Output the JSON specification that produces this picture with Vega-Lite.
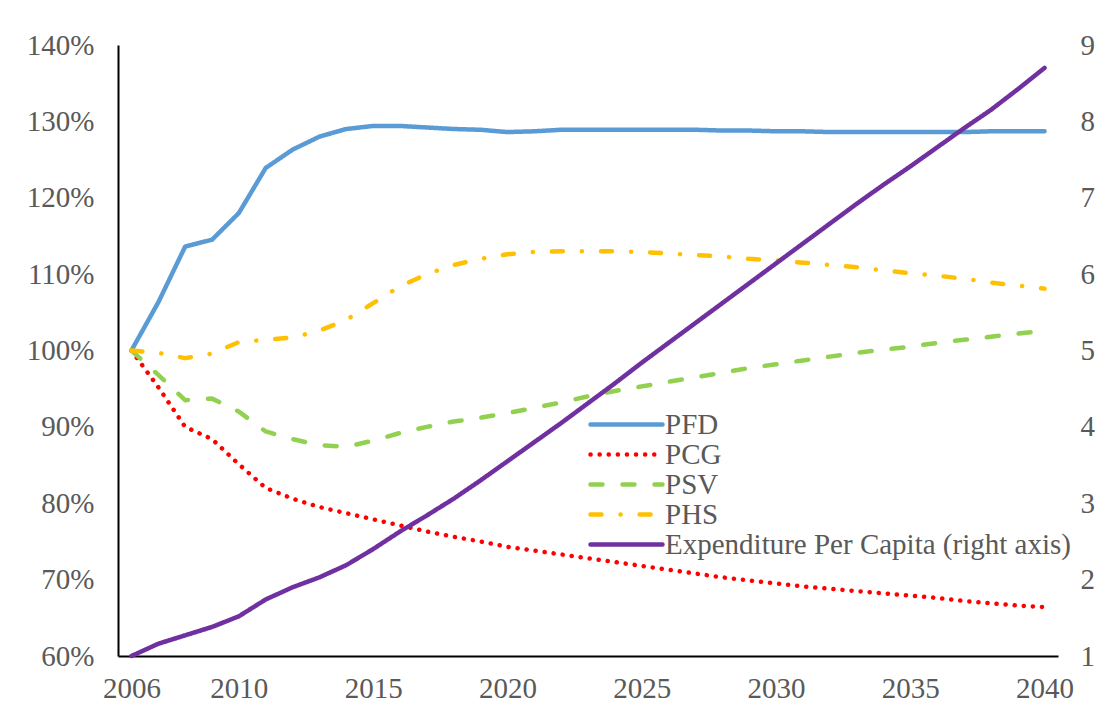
{
  "$schema": "https://vega.github.io/schema/vega-lite/v6.json",
  "width": 940,
  "height": 611,
  "autosize": {"type": "none"},
  "padding": {"left": 118, "top": 45, "right": 57, "bottom": 64},
  "background": "white",
  "config": {
    "font": "Liberation Serif",
    "view": {"stroke": null},
    "axis": {"grid": false, "labelFont": "Liberation Serif", "labelFontSize": 29, "labelColor": "#595959", "ticks": false, "tickSize": 0, "domainColor": "#000000", "domainWidth": 2, "title": null},
    "legend": {"orient": "none", "legendX": 468, "legendY": 365, "symbolType": "M-1,0H6.2", "symbolSize": 400, "symbolStrokeWidth": 4.5, "labelFont": "Liberation Serif", "labelFontSize": 29, "labelColor": "#595959", "labelOffset": 50, "rowPadding": -5, "labelLimit": 600, "title": null}
  },
  "datasets": {
    "pct": [
      {"year":2006,"series":"PFD","value":100},{"year":2007,"series":"PFD","value":106.3},{"year":2008,"series":"PFD","value":113.6},{"year":2009,"series":"PFD","value":114.5},{"year":2010,"series":"PFD","value":118.0},{"year":2011,"series":"PFD","value":123.9},{"year":2012,"series":"PFD","value":126.3},{"year":2013,"series":"PFD","value":128.0},{"year":2014,"series":"PFD","value":129.0},{"year":2015,"series":"PFD","value":129.4},{"year":2016,"series":"PFD","value":129.4},{"year":2017,"series":"PFD","value":129.2},{"year":2018,"series":"PFD","value":129.0},{"year":2019,"series":"PFD","value":128.9},{"year":2020,"series":"PFD","value":128.6},{"year":2021,"series":"PFD","value":128.7},{"year":2022,"series":"PFD","value":128.9},{"year":2023,"series":"PFD","value":128.9},{"year":2024,"series":"PFD","value":128.9},{"year":2025,"series":"PFD","value":128.9},{"year":2026,"series":"PFD","value":128.9},{"year":2027,"series":"PFD","value":128.9},{"year":2028,"series":"PFD","value":128.8},{"year":2029,"series":"PFD","value":128.8},{"year":2030,"series":"PFD","value":128.7},{"year":2031,"series":"PFD","value":128.7},{"year":2032,"series":"PFD","value":128.6},{"year":2033,"series":"PFD","value":128.6},{"year":2034,"series":"PFD","value":128.6},{"year":2035,"series":"PFD","value":128.6},{"year":2036,"series":"PFD","value":128.6},{"year":2037,"series":"PFD","value":128.6},{"year":2038,"series":"PFD","value":128.7},{"year":2039,"series":"PFD","value":128.7},{"year":2040,"series":"PFD","value":128.7},
      {"year":2006,"series":"PCG","value":100},{"year":2007,"series":"PCG","value":95.2},{"year":2008,"series":"PCG","value":90.0},{"year":2009,"series":"PCG","value":88.4},{"year":2010,"series":"PCG","value":85.1},{"year":2011,"series":"PCG","value":82.0},{"year":2012,"series":"PCG","value":80.6},{"year":2013,"series":"PCG","value":79.5},{"year":2014,"series":"PCG","value":78.7},{"year":2015,"series":"PCG","value":77.9},{"year":2016,"series":"PCG","value":77.1},{"year":2017,"series":"PCG","value":76.3},{"year":2018,"series":"PCG","value":75.6},{"year":2019,"series":"PCG","value":75.0},{"year":2020,"series":"PCG","value":74.3},{"year":2021,"series":"PCG","value":73.8},{"year":2022,"series":"PCG","value":73.3},{"year":2023,"series":"PCG","value":72.8},{"year":2024,"series":"PCG","value":72.3},{"year":2025,"series":"PCG","value":71.8},{"year":2026,"series":"PCG","value":71.3},{"year":2027,"series":"PCG","value":70.8},{"year":2028,"series":"PCG","value":70.3},{"year":2029,"series":"PCG","value":69.9},{"year":2030,"series":"PCG","value":69.5},{"year":2031,"series":"PCG","value":69.1},{"year":2032,"series":"PCG","value":68.8},{"year":2033,"series":"PCG","value":68.5},{"year":2034,"series":"PCG","value":68.2},{"year":2035,"series":"PCG","value":67.9},{"year":2036,"series":"PCG","value":67.6},{"year":2037,"series":"PCG","value":67.2},{"year":2038,"series":"PCG","value":66.9},{"year":2039,"series":"PCG","value":66.6},{"year":2040,"series":"PCG","value":66.4},
      {"year":2006,"series":"PSV","value":100},{"year":2007,"series":"PSV","value":96.8},{"year":2008,"series":"PSV","value":93.5},{"year":2009,"series":"PSV","value":93.7},{"year":2010,"series":"PSV","value":92.0},{"year":2011,"series":"PSV","value":89.4},{"year":2012,"series":"PSV","value":88.4},{"year":2013,"series":"PSV","value":87.6},{"year":2014,"series":"PSV","value":87.4},{"year":2015,"series":"PSV","value":88.2},{"year":2016,"series":"PSV","value":89.2},{"year":2017,"series":"PSV","value":90.0},{"year":2018,"series":"PSV","value":90.7},{"year":2019,"series":"PSV","value":91.2},{"year":2020,"series":"PSV","value":91.8},{"year":2021,"series":"PSV","value":92.5},{"year":2022,"series":"PSV","value":93.2},{"year":2023,"series":"PSV","value":94.0},{"year":2024,"series":"PSV","value":94.7},{"year":2025,"series":"PSV","value":95.3},{"year":2026,"series":"PSV","value":95.9},{"year":2027,"series":"PSV","value":96.5},{"year":2028,"series":"PSV","value":97.1},{"year":2029,"series":"PSV","value":97.7},{"year":2030,"series":"PSV","value":98.2},{"year":2031,"series":"PSV","value":98.7},{"year":2032,"series":"PSV","value":99.2},{"year":2033,"series":"PSV","value":99.7},{"year":2034,"series":"PSV","value":100.1},{"year":2035,"series":"PSV","value":100.5},{"year":2036,"series":"PSV","value":101.0},{"year":2037,"series":"PSV","value":101.4},{"year":2038,"series":"PSV","value":101.8},{"year":2039,"series":"PSV","value":102.2},{"year":2040,"series":"PSV","value":102.6},
      {"year":2006,"series":"PHS","value":100},{"year":2007,"series":"PHS","value":99.7},{"year":2008,"series":"PHS","value":99.0},{"year":2009,"series":"PHS","value":99.6},{"year":2010,"series":"PHS","value":101.1},{"year":2011,"series":"PHS","value":101.4},{"year":2012,"series":"PHS","value":101.7},{"year":2013,"series":"PHS","value":102.6},{"year":2014,"series":"PHS","value":104.0},{"year":2015,"series":"PHS","value":106.2},{"year":2016,"series":"PHS","value":108.4},{"year":2017,"series":"PHS","value":110.0},{"year":2018,"series":"PHS","value":111.2},{"year":2019,"series":"PHS","value":112.0},{"year":2020,"series":"PHS","value":112.6},{"year":2021,"series":"PHS","value":112.9},{"year":2022,"series":"PHS","value":113.0},{"year":2023,"series":"PHS","value":113.0},{"year":2024,"series":"PHS","value":113.0},{"year":2025,"series":"PHS","value":112.9},{"year":2026,"series":"PHS","value":112.7},{"year":2027,"series":"PHS","value":112.5},{"year":2028,"series":"PHS","value":112.3},{"year":2029,"series":"PHS","value":112.0},{"year":2030,"series":"PHS","value":111.8},{"year":2031,"series":"PHS","value":111.5},{"year":2032,"series":"PHS","value":111.2},{"year":2033,"series":"PHS","value":110.9},{"year":2034,"series":"PHS","value":110.5},{"year":2035,"series":"PHS","value":110.1},{"year":2036,"series":"PHS","value":109.8},{"year":2037,"series":"PHS","value":109.4},{"year":2038,"series":"PHS","value":108.9},{"year":2039,"series":"PHS","value":108.5},{"year":2040,"series":"PHS","value":108.1}
    ],
    "exp": [
      {"year":2006,"series":"Expenditure Per Capita (right axis)","value":1.00},{"year":2007,"series":"Expenditure Per Capita (right axis)","value":1.16},{"year":2008,"series":"Expenditure Per Capita (right axis)","value":1.27},{"year":2009,"series":"Expenditure Per Capita (right axis)","value":1.38},{"year":2010,"series":"Expenditure Per Capita (right axis)","value":1.52},{"year":2011,"series":"Expenditure Per Capita (right axis)","value":1.74},{"year":2012,"series":"Expenditure Per Capita (right axis)","value":1.90},{"year":2013,"series":"Expenditure Per Capita (right axis)","value":2.03},{"year":2014,"series":"Expenditure Per Capita (right axis)","value":2.19},{"year":2015,"series":"Expenditure Per Capita (right axis)","value":2.40},{"year":2016,"series":"Expenditure Per Capita (right axis)","value":2.63},{"year":2017,"series":"Expenditure Per Capita (right axis)","value":2.84},{"year":2018,"series":"Expenditure Per Capita (right axis)","value":3.06},{"year":2019,"series":"Expenditure Per Capita (right axis)","value":3.30},{"year":2020,"series":"Expenditure Per Capita (right axis)","value":3.55},{"year":2021,"series":"Expenditure Per Capita (right axis)","value":3.80},{"year":2022,"series":"Expenditure Per Capita (right axis)","value":4.05},{"year":2023,"series":"Expenditure Per Capita (right axis)","value":4.31},{"year":2024,"series":"Expenditure Per Capita (right axis)","value":4.57},{"year":2025,"series":"Expenditure Per Capita (right axis)","value":4.84},{"year":2026,"series":"Expenditure Per Capita (right axis)","value":5.10},{"year":2027,"series":"Expenditure Per Capita (right axis)","value":5.36},{"year":2028,"series":"Expenditure Per Capita (right axis)","value":5.62},{"year":2029,"series":"Expenditure Per Capita (right axis)","value":5.88},{"year":2030,"series":"Expenditure Per Capita (right axis)","value":6.14},{"year":2031,"series":"Expenditure Per Capita (right axis)","value":6.40},{"year":2032,"series":"Expenditure Per Capita (right axis)","value":6.66},{"year":2033,"series":"Expenditure Per Capita (right axis)","value":6.92},{"year":2034,"series":"Expenditure Per Capita (right axis)","value":7.17},{"year":2035,"series":"Expenditure Per Capita (right axis)","value":7.41},{"year":2036,"series":"Expenditure Per Capita (right axis)","value":7.66},{"year":2037,"series":"Expenditure Per Capita (right axis)","value":7.91},{"year":2038,"series":"Expenditure Per Capita (right axis)","value":8.15},{"year":2039,"series":"Expenditure Per Capita (right axis)","value":8.42},{"year":2040,"series":"Expenditure Per Capita (right axis)","value":8.70}
    ]
  },
  "layer": [
    {
      "data": {"name": "pct"},
      "mark": {"type": "line", "strokeWidth": 4.5, "strokeCap": "round", "strokeJoin": "round"},
      "encoding": {
        "x": {"field": "year", "type": "quantitative", "scale": {"domain": [2005.5, 2040.5], "nice": false, "zero": false},
              "axis": {"values": [2006, 2010, 2015, 2020, 2025, 2030, 2035, 2040], "format": "d", "labelPadding": 18, "domain": true}},
        "y": {"field": "value", "type": "quantitative", "scale": {"domain": [60, 140], "nice": false, "zero": false},
              "axis": {"orient": "left", "values": [60, 70, 80, 90, 100, 110, 120, 130, 140], "labelExpr": "datum.value + '%'", "labelPadding": 24}},
        "color": {"field": "series", "type": "nominal",
                  "scale": {"domain": ["PFD", "PCG", "PSV", "PHS", "Expenditure Per Capita (right axis)"], "range": ["#5B9BD5", "#FF0000", "#92D050", "#FFC000", "#7030A0"]},
                  "legend": {"title": null, "encode": {"symbols": {"update": {"strokeCap": {"value": "round"}}}}}},
        "strokeDash": {"field": "series", "type": "nominal",
                  "scale": {"domain": ["PFD", "PCG", "PSV", "PHS", "Expenditure Per Capita (right axis)"], "range": [[1, 0], [0.1, 9], [12, 20], [11, 19, 0.1, 19], [1, 0]]},
                  "legend": {"title": null, "encode": {"symbols": {"update": {"strokeCap": {"value": "round"}}}}}}
      }
    },
    {
      "data": {"name": "exp"},
      "mark": {"type": "line", "strokeWidth": 4.5, "strokeCap": "round", "strokeJoin": "round"},
      "encoding": {
        "x": {"field": "year", "type": "quantitative"},
        "y": {"field": "value", "type": "quantitative", "scale": {"domain": [1, 9], "nice": false, "zero": false},
              "axis": {"orient": "right", "values": [1, 2, 3, 4, 5, 6, 7, 8, 9], "domain": false, "labelPadding": 22}},
        "color": {"field": "series", "type": "nominal", "legend": {"title": null, "encode": {"symbols": {"update": {"strokeCap": {"value": "round"}}}}}},
        "strokeDash": {"field": "series", "type": "nominal", "legend": {"title": null, "encode": {"symbols": {"update": {"strokeCap": {"value": "round"}}}}}}
      }
    }
  ],
  "resolve": {"scale": {"y": "independent"}}
}
